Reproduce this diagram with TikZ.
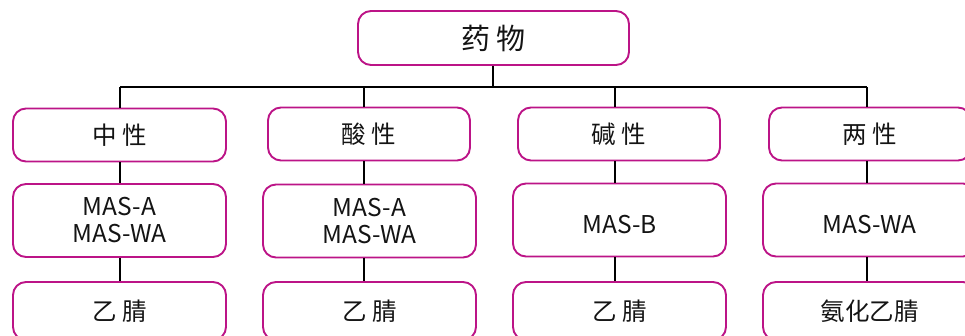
\documentclass[tikz,border=0pt]{standalone}
\usepackage{fontspec}
\setmainfont{Noto Sans CJK SC}
\definecolor{boxc}{RGB}{188,20,135}
\definecolor{txt}{RGB}{20,20,20}
\begin{document}
\begin{tikzpicture}[x=1pt,y=-1pt,
  box/.style={draw=boxc, line width=1.9pt, rounded corners=13pt, fill=white,
    align=center, inner sep=0pt, text=txt, font=\fontsize{24.5}{27}\selectfont},
  catbox/.style={box, minimum height=53pt},
  midbox/.style={box, minimum height=73pt},
  midone/.style={midbox, text height=26pt, text depth=0pt},
  botbox/.style={box, minimum height=58pt},
  conn/.style={line width=1.6pt, black}]
\useasboundingbox (0,0) rectangle (965,335);
\clip (0,0) rectangle (965,335);
% top
\node[box, minimum width=271pt, minimum height=54pt, font=\fontsize{29}{32}\selectfont] (top) at (493.5,38) {药 物};
% categories
\node[catbox, minimum width=213pt] (cat1) at (119.5,135) {中 性};
\node[catbox, minimum width=202pt] (cat2) at (369,134) {酸 性};
\node[catbox, minimum width=202pt] (cat3) at (619,134) {碱 性};
\node[catbox, minimum width=202pt] (cat4) at (870,134) {两 性};
% middle
\node[midbox, minimum width=213pt] (mid1) at (119.5,220.5) {MAS-A\\MAS-WA};
\node[midbox, minimum width=213pt] (mid2) at (369.5,221) {MAS-A\\MAS-WA};
\node[midone, minimum width=213pt] (mid3) at (619.5,220) {MAS-B};
\node[midone, minimum width=213pt] (mid4) at (869.5,220) {MAS-WA};
% bottom
\node[botbox, minimum width=213pt] (bot1) at (119.5,311) {乙 腈};
\node[botbox, minimum width=213pt] (bot2) at (369.5,311) {乙 腈};
\node[botbox, minimum width=213pt] (bot3) at (619.5,311) {乙 腈};
\node[botbox, minimum width=213pt] (bot4) at (869.5,311) {氨化乙腈};
% connector coordinates
\coordinate (hub) at (493,87);
\coordinate (l1) at (120,87);
\coordinate (l2) at (364,87);
\coordinate (l3) at (615,87);
\coordinate (l4) at (867,87);
\draw[conn] (top.south -| hub) -- (hub);
\draw[conn] (l1) -- (l4);
\foreach \i in {1,2,3,4}{
  \draw[conn] (l\i) -- (cat\i.north -| l\i);
  \draw[conn] (cat\i.south -| l\i) -- (mid\i.north -| l\i);
  \draw[conn] (mid\i.south -| l\i) -- (bot\i.north -| l\i);
}
\end{tikzpicture}
\end{document}
